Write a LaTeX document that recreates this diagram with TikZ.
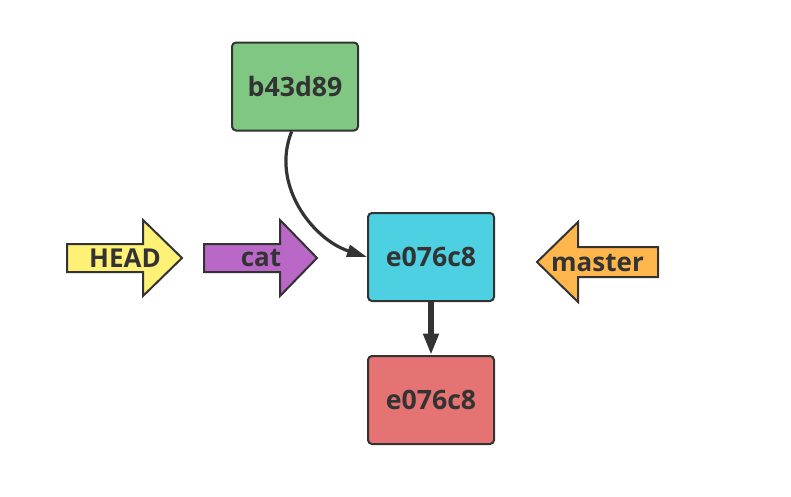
\documentclass[tikz,border=0pt]{standalone}
\usepackage{fontspec}
\setmainfont{Open Sans}
\usetikzlibrary{arrows.meta}

\definecolor{ink}{HTML}{333333}
\definecolor{green300}{HTML}{81C784}
\definecolor{cyan300}{HTML}{4DD0E1}
\definecolor{red300}{HTML}{E57373}
\definecolor{yellow300}{HTML}{FFF176}
\definecolor{purple300}{HTML}{BA68C8}
\definecolor{orange300}{HTML}{FFB74D}

\tikzset{
  commit/.style={draw=ink, line width=1.5pt, rounded corners=3pt,
    minimum width=94.5pt, minimum height=66pt, text=ink,
    font=\fontsize{20}{24}\selectfont\bfseries},
  refname/.style={text=ink, inner sep=0pt,
    font=\fontsize{19.5}{23}\selectfont\bfseries},
  blockarrow/.style={draw=ink, line width=1.5pt, line join=miter},
}

\begin{document}
\begin{tikzpicture}[x=0.75pt, y=-0.75pt]
    \useasboundingbox (0,0) rectangle (791,496);

    % The commits
    \node[commit, fill=green300] (b43d89) at (295,86.5) {b43d89};
    \node[commit, fill=cyan300] (e076c8) at (431,257) {e076c8};
    \node[commit, fill=red300] (e076c8old) at (431,400) {e076c8};

    % Parent links
    \draw[ink, line width=2.4pt, -{Triangle[length=15pt, width=9pt]}]
        ([xshift=-2.5pt]b43d89.south) to[out=-112, in=162] (e076c8.west);
    \draw[ink, line width=4.2pt, -{Triangle[length=16pt, width=11pt]}]
        (e076c8.south) -- (e076c8old.north);

    % HEAD points at cat
    \draw[blockarrow, fill=yellow300] (67,244) -- (143,244) -- (143,220) -- (182,258)
        -- (143,296) -- (143,272) -- (67,272) -- cycle;
    \node[refname] (head) at (125,258) {HEAD};

    % The branch cat
    \draw[blockarrow, fill=purple300] (204,244) -- (280,244) -- (280,220) -- (317,258)
        -- (280,296) -- (280,272) -- (204,272) -- cycle;
    \node[refname] (cat) at (261,258) {cat};

    % The branch master, from the right
    \draw[blockarrow, fill=orange300] (658,247) -- (578,247) -- (578,222) -- (537,262)
        -- (578,302) -- (578,277) -- (658,277) -- cycle;
    \node[refname] (master) at (597.5,263) {master};
\end{tikzpicture}
\end{document}
